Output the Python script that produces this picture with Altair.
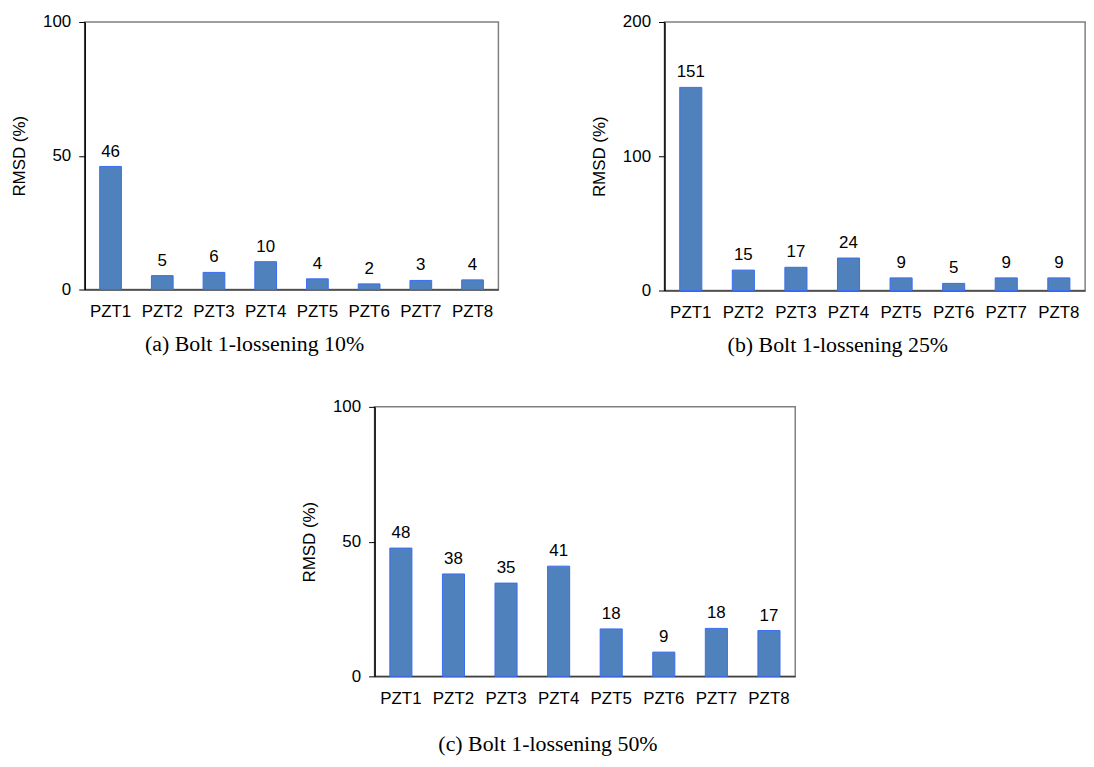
import altair as alt
import pandas as pd

sensors = ["PZT1", "PZT2", "PZT3", "PZT4", "PZT5", "PZT6", "PZT7", "PZT8"]
rmsd_10 = [46.0, 5.2, 6.4, 10.4, 4.0, 2.1, 3.4, 3.6]
rmsd_25 = [151.3, 15.2, 17.3, 24.2, 9.4, 5.3, 9.4, 9.4]
rmsd_50 = [47.6, 38.0, 34.6, 40.9, 17.6, 9.0, 17.8, 17.0]

captions = ["(a) Bolt 1-lossening 10%", "(b) Bolt 1-lossening 25%", "(c) Bolt 1-lossening 50%"]

SANS = "Liberation Sans"
SERIF = "Liberation Serif"


def panel(values, ymax, step, caption, width, height, cap_offset):
    df = pd.DataFrame({"sensor": sensors, "rmsd": values})
    x = alt.X(
        "sensor:N",
        sort=sensors,
        title=None,
        scale=alt.Scale(paddingInner=0.58, paddingOuter=0.29),
        axis=alt.Axis(
            labelAngle=0, ticks=False, labelPadding=14,
            domainColor="#404040", domainWidth=1.5,
            labelFontSize=17, labelFont=SANS, labelColor="black",
        ),
    )
    y = alt.Y(
        "rmsd:Q",
        scale=alt.Scale(domain=[0, ymax], nice=False),
        axis=alt.Axis(
            values=[0, step, ymax], title="RMSD (%)", grid=False,
            tickSize=6, tickColor="black", labelPadding=8, titlePadding=14,
            domainColor="black", domainWidth=1.5,
            labelFontSize=17, labelFont=SANS, labelColor="black",
            titleFontSize=17, titleFont=SANS, titleFontWeight="normal", titleColor="black",
        ),
    )
    bars = alt.Chart(df).mark_bar(color="#4F81BD", stroke="#3A6CF4", strokeWidth=1).encode(x=x, y=y)
    labels = alt.Chart(df).mark_text(
        baseline="alphabetic", dy=-10, fontSize=17, font=SANS, color="black"
    ).encode(x=x, y=y, text=alt.Text("rmsd:Q", format=".0f"))
    return alt.layer(bars, labels).properties(
        width=width,
        height=height,
        title=alt.TitleParams(
            caption, orient="bottom", font=SERIF, fontSize=22, fontWeight="normal",
            offset=cap_offset, anchor="middle", frame="bounds", color="black",
        ),
    )


a = panel(rmsd_10, 100, 50, captions[0], 416, 269, 15)
b = panel(rmsd_25, 200, 100, captions[1], 423, 270, 15)
c = panel(rmsd_50, 100, 50, captions[2], 423, 271, 28)

top = alt.hconcat(a, b, spacing=90)
chart = alt.vconcat(top, c, spacing=40, center=True).properties(
    padding={"left": 2, "top": 2, "right": 0, "bottom": 0}
).configure_view(stroke="#808080", strokeWidth=1.5)

chart.save("out.html", embed_options={"renderer": "svg", "actions": False})
